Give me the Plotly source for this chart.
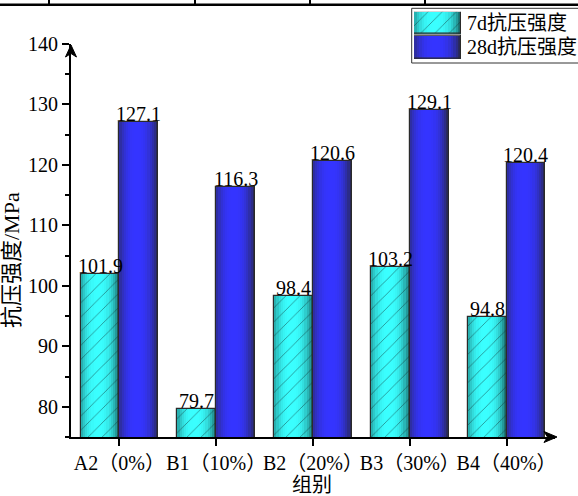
import plotly.graph_objects as go

# Compressive strength by mix group
categories = ["A2（0%）", "B1（10%）", "B2（20%）", "B3（30%）", "B4（40%）"]
strength_7d = [101.9, 79.7, 98.4, 103.2, 94.8]
strength_28d = [127.1, 116.3, 120.6, 129.1, 120.4]
series_names = ["7d抗压强度", "28d抗压强度"]
y_ticks = [80, 90, 100, 110, 120, 130, 140]
y_range = [75, 140]

W, H = 578, 496
FONT = "Liberation Serif, Times New Roman, Noto Sans CJK SC, serif"
FS = 20


def fx(p):
    """pixel column -> paper x"""
    return p / W


def fy(p):
    """pixel row -> paper y"""
    return 1 - p / H


BAR_W = 0.4
N_STRIPS = 18


def shade(dark, bright, t):
    u = (t - 0.45) / 0.55
    f = max(0.0, 1 - abs(u) ** 2.6)
    return "rgb(%d,%d,%d)" % tuple(round(d + (b - d) * f) for d, b in zip(dark, bright))


def gradient_bar(fig, x, y, left, width, dark, bright, hatch, base=None, xaxis="x", yaxis="y"):
    sw = width / N_STRIPS
    for k in range(N_STRIPS):
        t = (k + 0.5) / N_STRIPS
        w = sw * 1.1 if k < N_STRIPS - 1 else sw
        fig.add_trace(go.Bar(
            x=x, y=y, base=base, offset=left + k * sw, width=w,
            marker=dict(color=shade(dark, bright, t), line=dict(width=0)),
            xaxis=xaxis, yaxis=yaxis, showlegend=False, hoverinfo="skip",
        ))
    pattern = dict(shape=hatch, fgcolor="#0e2e2e", bgcolor="rgba(0,0,0,0)",
                   size=10, solidity=0.09) if hatch else dict(shape="")
    fig.add_trace(go.Bar(
        x=x, y=y, base=base, offset=left, width=width,
        marker=dict(color="rgba(0,0,0,0)", line=dict(color="#2a2a2a", width=1.2),
                    pattern=pattern),
        xaxis=xaxis, yaxis=yaxis, showlegend=False, hoverinfo="skip",
    ))


series = [
    dict(name=series_names[0], values=strength_7d, left=-BAR_W,
         dark=(22, 100, 100), bright=(58, 255, 255), hatch="/"),
    dict(name=series_names[1], values=strength_28d, left=0.0,
         dark=(40, 40, 72), bright=(52, 52, 255), hatch=""),
]

fig = go.Figure()
xs = list(range(len(categories)))

annotations = []
for s in series:
    gradient_bar(fig, xs, s["values"], s["left"], BAR_W, s["dark"], s["bright"], s["hatch"])
    for i, v in zip(xs, s["values"]):
        annotations.append(dict(
            x=i + s["left"] + BAR_W / 2, y=v, xref="x", yref="y",
            text=f"{v:.1f}", showarrow=False, xanchor="center", yanchor="bottom", yshift=-5,
            font=dict(family=FONT, size=FS, color="black"),
        ))

# legend swatches drawn on their own small axes
sw_base = [25.7, 0.0]
sw_height = [21.6, 23.0]
for s, b, h in zip(series, sw_base, sw_height):
    gradient_bar(fig, [0], [h], -0.5, 1.0, s["dark"], s["bright"], s["hatch"],
                 base=[b], xaxis="x2", yaxis="y2")
for name, yc in zip(series_names, [22.5, 47.5]):
    annotations.append(dict(
        x=fx(465), y=fy(yc), xref="paper", yref="paper", text=name,
        showarrow=False, xanchor="left", yanchor="middle",
        font=dict(family=FONT, size=FS, color="black"),
    ))

# axis titles
annotations.append(dict(x=fx(312), y=fy(485), xref="paper", yref="paper", text="组别",
                        showarrow=False, xanchor="center", yanchor="middle",
                        font=dict(family=FONT, size=FS, color="black")))
annotations.append(dict(x=fx(11), y=fy(260), xref="paper", yref="paper", text="抗压强度/MPa",
                        textangle=-90, showarrow=False, xanchor="center", yanchor="middle",
                        font=dict(family=FONT, size=22, color="black")))


def path(points):
    return "M" + " L".join(f"{fx(px):.5f},{fy(py):.5f}" for px, py in points) + " Z"


shapes = [
    # axis arrowheads
    dict(type="path", xref="paper", yref="paper",
         path=path([(71, 45), (65.5, 57), (71, 53.5), (76.5, 57)]),
         fillcolor="black", line=dict(color="black", width=1)),
    dict(type="path", xref="paper", yref="paper",
         path=path([(557, 437), (544, 431.5), (547.5, 437), (544, 442.5)]),
         fillcolor="black", line=dict(color="black", width=1)),
    # legend frame
    dict(type="rect", xref="paper", yref="paper", x0=fx(411.7), x1=fx(581),
         y0=fy(63), y1=fy(8.3), line=dict(color="#333333", width=1)),
    # table rule above the chart
    dict(type="line", xref="paper", yref="paper", x0=0, x1=1, y0=fy(4.7), y1=fy(4.7),
         line=dict(color="black", width=2.5)),
]
for vx in [49, 195, 310, 425]:
    shapes.append(dict(type="line", xref="paper", yref="paper", x0=fx(vx), x1=fx(vx),
                       y0=fy(4.7), y1=1.01, line=dict(color="black", width=2)))

fig.update_layout(
    width=W, height=H, autosize=False,
    margin=dict(l=0, r=0, t=0, b=0),
    paper_bgcolor="white", plot_bgcolor="white",
    barmode="overlay", bargap=0, showlegend=False,
    font=dict(family=FONT, size=FS, color="black"),
    annotations=annotations, shapes=shapes,
    xaxis=dict(
        domain=[fx(71), fx(555)], range=[-0.5, 4.5], tickvals=xs, ticktext=categories,
        tickangle=0,
        showline=True, linecolor="black", linewidth=2, ticks="outside", ticklen=7,
        tickwidth=1.5, tickcolor="black", showgrid=False, zeroline=False,
        tickfont=dict(family=FONT, size=FS, color="black"), automargin=False,
    ),
    yaxis=dict(
        domain=[fy(437), fy(44)], range=y_range, tickvals=y_ticks,
        showline=True, linecolor="black", linewidth=2, ticks="outside", ticklen=7,
        tickwidth=1.5, tickcolor="black", showgrid=False, zeroline=False,
        minor=dict(dtick=5, tick0=75, ticks="outside", ticklen=4, tickwidth=1.5,
                   tickcolor="black", showgrid=False),
        tickfont=dict(family=FONT, size=FS, color="black"), automargin=False,
    ),
    xaxis2=dict(domain=[fx(414), fx(461)], range=[-0.5, 0.5], visible=False,
                anchor="y2", fixedrange=True),
    yaxis2=dict(domain=[fy(59), fy(11.7)], range=[0, 47.3], visible=False,
                anchor="x2", fixedrange=True),
)

fig.write_html("out.html", config=dict(displayModeBar=False))
